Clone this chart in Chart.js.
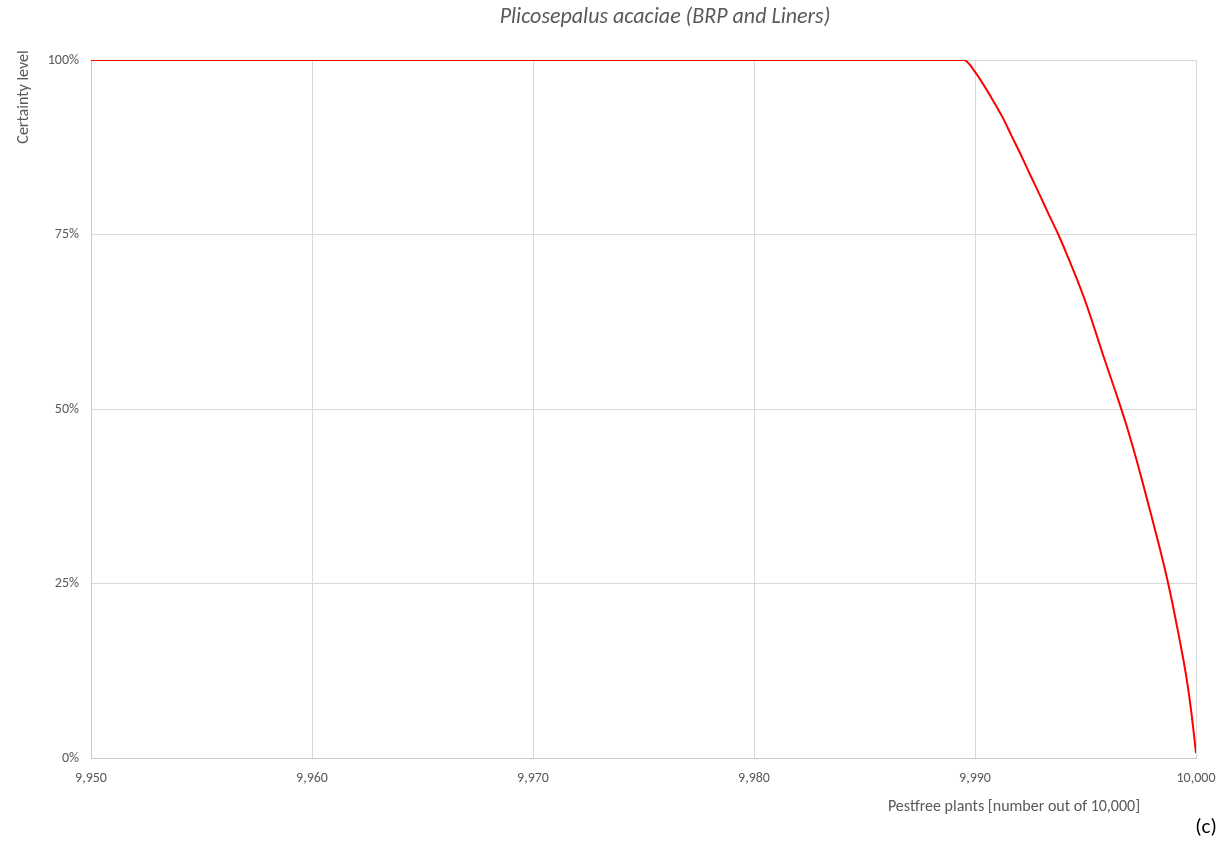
<!DOCTYPE html>
<html>
<head>
<meta charset="utf-8">
<script src="https://cdn.jsdelivr.net/npm/chart.js@4"></script>
<style>
html,body{margin:0;padding:0;background:#fff;}
#wrap{width:1220px;height:842px;}
</style>
</head>
<body>
<div id="wrap"><canvas id="c" width="1220" height="842"></canvas></div>
<script>
const chartTitle = "Plicosepalus acaciae (BRP and Liners)";
const yAxisTitle = "Certainty level";
const xAxisTitle = "Pestfree plants [number out of 10,000]";
const panelLabel = "(c)";

const pestfreePlants = [9950, 9989.5, 9990.0, 9990.76, 9991.28, 9991.66, 9992.11, 9992.49, 9992.94, 9993.32, 9993.77, 9994.15, 9994.60, 9995.05, 9995.43, 9995.81, 9996.26, 9996.64, 9996.86, 9997.32, 9997.65, 9998.00, 9998.30, 9998.67, 9998.97, 9999.28, 9999.58, 9999.80, 10000];
const certainty =      [100,  100,    98.3,   94.5,    91.6,    89.1,    86.2,    83.6,    80.6,    78.0,    75.0,    72.2,    68.7,    64.9,    61.3,    57.6,    53.4,    49.8,    47.6,    42.6,    38.7,    34.5,    30.8,    26.0,    21.6,    16.6,    11.3,    6.3,     0.7];

const xTicks = [9950, 9960, 9970, 9980, 9990, 10000];
const yTicks = [0, 25, 50, 75, 100];

const FONT = "Calibri, Carlito, Lato, 'Liberation Sans', sans-serif";
const GRAY = "#595959";

const points = pestfreePlants.map((x, i) => ({x: x, y: certainty[i]}));

const textPlugin = {
  id: 'texts',
  afterDraw(chart) {
    const ctx = chart.ctx;
    ctx.save();
    ctx.fillStyle = GRAY;
    ctx.textAlign = 'center';
    ctx.textBaseline = 'middle';
    ctx.font = "italic 22px " + FONT;
    ctx.fillText(chartTitle, 665, 17);
    ctx.font = "16px " + FONT;
    ctx.fillText(xAxisTitle, 1014, 807);
    ctx.save();
    ctx.translate(24, 97);
    ctx.rotate(-Math.PI / 2);
    ctx.font = "16px " + FONT;
    ctx.fillText(yAxisTitle, 0, 0);
    ctx.restore();
    ctx.fillStyle = "#000";
    ctx.font = "21px " + FONT;
    ctx.fillText(panelLabel, 1206, 828);
    ctx.restore();
  }
};

new Chart(document.getElementById('c'), {
  type: 'scatter',
  data: {
    datasets: [{
      data: points,
      showLine: true,
      borderColor: '#ff0000',
      backgroundColor: '#ff0000',
      borderWidth: 2,
      pointRadius: 0,
      cubicInterpolationMode: 'monotone',
      fill: false
    }]
  },
  options: {
    responsive: false,
    animation: false,
    layout: {padding: {left: 0, top: 60, right: 24, bottom: 0}},
    plugins: {legend: {display: false}, tooltip: {enabled: false}, title: {display: false}},
    scales: {
      x: {
        type: 'linear',
        min: xTicks[0],
        max: xTicks[xTicks.length - 1],
        afterBuildTicks: (s) => { s.ticks = xTicks.map(v => ({value: v})); },
        afterFit: (s) => { s.height = 84; s.paddingRight = 0; s.paddingLeft = 0; },
        grid: {color: '#d9d9d9', drawTicks: false, lineWidth: 1},
        border: {color: '#c8c8c8', width: 1},
        ticks: {
          padding: 12,
          color: GRAY,
          font: {family: FONT, size: 14},
          maxRotation: 0,
          callback: (v) => v.toLocaleString('en-US')
        }
      },
      y: {
        min: 0,
        max: 100,
        afterBuildTicks: (s) => { s.ticks = yTicks.map(v => ({value: v})); },
        afterFit: (s) => { s.width = 91; s.paddingTop = 0; s.paddingBottom = 0; },
        grid: {color: '#d9d9d9', drawTicks: false, lineWidth: 1},
        border: {color: '#c8c8c8', width: 1},
        ticks: {
          padding: 12,
          color: GRAY,
          font: {family: FONT, size: 14},
          callback: (v) => v + '%'
        }
      }
    }
  },
  plugins: [textPlugin]
});
</script>
</body>
</html>
